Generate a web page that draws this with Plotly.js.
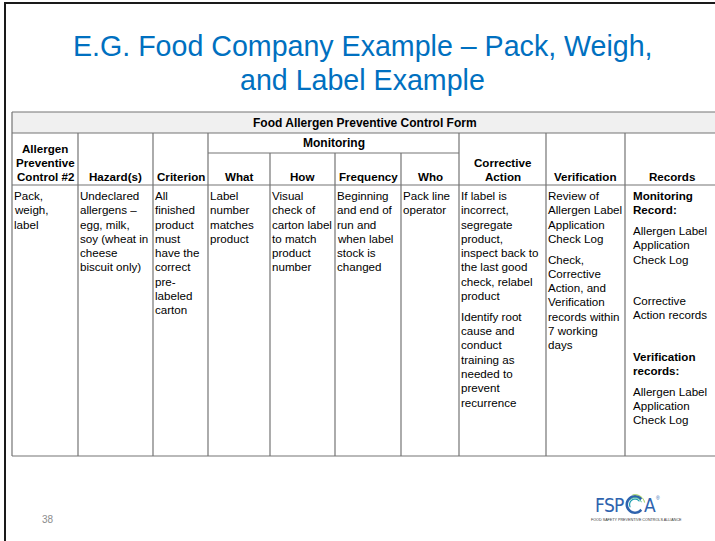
<!DOCTYPE html>
<html>
<head>
<meta charset="utf-8">
<script src="https://cdn.plot.ly/plotly-3.0.1.min.js"></script>
<style>html,body{margin:0;padding:0;background:#fff;}#chart{width:715px;height:541px;}</style>
</head>
<body>
<div id="chart"></div>
<script>
// ---------- DATA (text content of the slide) ----------
const slideTitle = ["E.G. Food Company Example \u2013 Pack, Weigh,", "and Label Example"];
const formTitle = "Food Allergen Preventive Control Form";
const groupHeader = "Monitoring";
const slideNumber = "38";
const logoLetters = ["F", "S", "P", "A"];
const logoTagline = "FOOD SAFETY PREVENTIVE CONTROLS ALLIANCE";

const columnHeaders = [
  ["Allergen", "Preventive", "Control #2"],
  ["Hazard(s)"],
  ["Criterion"],
  ["What"],
  ["How"],
  ["Frequency"],
  ["Who"],
  ["Corrective", "Action"],
  ["Verification"],
  ["Records"]
];

// each column: list of paragraphs, each paragraph: list of lines
const colControl   = [["Pack,", "weigh,", "label"]];
const colHazard    = [["Undeclared", "allergens \u2013", "egg, milk,", "soy (wheat in", "cheese", "biscuit only)"]];
const colCriterion = [["All", "finished", "product", "must", "have the", "correct", "pre-", "labeled", "carton"]];
const colWhat      = [["Label", "number", "matches", "product"]];
const colHow       = [["Visual", "check of", "carton label", "to match", "product", "number"]];
const colFrequency = [["Beginning", "and end of", "run and", "when label", "stock is", "changed"]];
const colWho       = [["Pack line", "operator"]];
const colCorrective = [
  ["If label is", "incorrect,", "segregate", "product,", "inspect back to", "the last good", "check, relabel", "product"],
  ["Identify root", "cause and", "conduct", "training as", "needed to", "prevent", "recurrence"]
];
const colVerification = [
  ["Review of", "Allergen Label", "Application", "Check Log"],
  ["Check,", "Corrective", "Action, and", "Verification", "records within", "7 working", "days"]
];
const colRecords = [
  ["<b>Monitoring</b>", "<b>Record:</b>"],
  ["Allergen Label", "Application", "Check Log"],
  [],
  ["Corrective", "Action records"],
  [],
  ["<b>Verification</b>", "<b>records:</b>"],
  ["Allergen Label", "Application", "Check Log"]
];
const bodyColumns = [colControl, colHazard, colCriterion, colWhat, colHow, colFrequency, colWho, colCorrective, colVerification, colRecords];

// ---------- LAYOUT GEOMETRY ----------
const FONT = "Liberation Sans, Arial, Helvetica, sans-serif";
const NARROW = "Liberation Sans Narrow, DejaVu Sans Condensed, Liberation Sans, sans-serif";
const colEdges = [12, 78, 153, 208, 270, 335, 401, 459, 546, 625, 718];
const yTop = 112, yTitleBot = 133, yMonBot = 153, yHeadBot = 185, yBottom = 456;
const monitorCols = [3, 6]; // first and last monitoring columns
const lineColor = "#747474";
const bodyFirstY = 195.4, lineH = 14.3, paraGap = 6.4;
const headLastY = 176.8, headLineH = 14;
const bodySize = 11.6, headSize = 11.6;
const textInset = [1.5, 1.5, 1.5, 1.5, 1.5, 1.5, 1.5, 1.5, 1.5, 8];

const shapes = [];
const annotations = [];

function line(x0, y0, x1, y1, color, width) {
  shapes.push({type: "line", xref: "x", yref: "y", x0, y0, x1, y1, line: {color, width}});
}
function txt(x, y, text, size, opts) {
  opts = opts || {};
  annotations.push({
    xref: "x", yref: "y", x, y, text, showarrow: false,
    xanchor: opts.xanchor || "left", yanchor: "middle",
    borderpad: 0, borderwidth: 0,
    font: {family: opts.family || FONT, size, color: opts.color || "#000"}
  });
}

// slide frame
line(4, 3, 715, 3, "#1a1a1a", 2);
line(5, 2, 5, 541, "#1a1a1a", 2);

// title row background
shapes.push({type: "rect", xref: "x", yref: "y", x0: colEdges[0], x1: colEdges[colEdges.length - 1], y0: yTop, y1: yTitleBot,
  fillcolor: "#f0f0f0", line: {width: 0}, layer: "below"});

const xL = colEdges[0], xR = colEdges[colEdges.length - 1];
// horizontal rules
[yTop, yTitleBot, yHeadBot, yBottom].forEach(y => line(xL, y, xR, y, lineColor, 1.2));
line(colEdges[monitorCols[0]], yMonBot, colEdges[monitorCols[1] + 1], yMonBot, lineColor, 1.2);
// vertical rules
line(xL, yTop, xL, yBottom, lineColor, 1.2);
line(xR, yTop, xR, yBottom, lineColor, 1.2);
for (let i = 1; i < colEdges.length - 1; i++) {
  const inside = i > monitorCols[0] && i <= monitorCols[1];
  line(colEdges[i], inside ? yMonBot : yTitleBot, colEdges[i], yBottom, lineColor, 1.2);
}

// slide title
txt(362.5, 45.5, slideTitle[0], 28.6, {xanchor: "center", color: "#0070C0"});
txt(362.5, 80, slideTitle[1], 28.6, {xanchor: "center", color: "#0070C0"});

// form title and group header
txt((xL + xR) / 2, 123.3, "<b>" + formTitle + "</b>", 12, {xanchor: "center"});
txt((colEdges[monitorCols[0]] + colEdges[monitorCols[1] + 1]) / 2, 143, "<b>" + groupHeader + "</b>", 12, {xanchor: "center"});

// column headers (bottom aligned, centered)
columnHeaders.forEach((lines, c) => {
  const cx = (colEdges[c] + colEdges[c + 1]) / 2;
  lines.forEach((t, k) => {
    const y = headLastY - (lines.length - 1 - k) * headLineH;
    txt(cx, y, "<b>" + t + "</b>", headSize, {xanchor: "center"});
  });
});

// body cells
bodyColumns.forEach((paras, c) => {
  let y = bodyFirstY;
  const x = colEdges[c] + textInset[c];
  paras.forEach((lines, p) => {
    if (p > 0) y += paraGap;
    if (lines.length === 0) { y += lineH; return; }
    lines.forEach(t => { txt(x, y, t, bodySize); y += lineH; });
  });
});

// slide number
txt(42, 519, slideNumber, 10, {color: "#8c8c8c"});

// FSPCA logo
const logoBlue = "#2e63ae";
const logoY = 504.5;
txt(595, logoY, logoLetters[0], 19, {color: logoBlue, family: NARROW});
txt(604, logoY, logoLetters[1], 19, {color: logoBlue, family: NARROW});
txt(613.5, logoY, logoLetters[2], 19, {color: logoBlue, family: NARROW});
txt(644, logoY, logoLetters[3], 19, {color: logoBlue, family: NARROW});
txt(656, 497.5, "\u00ae", 5, {color: logoBlue});
function arcPath(cx, cy, r, a0, a1) {
  let d = "";
  const n = 28;
  for (let i = 0; i <= n; i++) {
    const a = (a0 + (a1 - a0) * i / n) * Math.PI / 180;
    const px = cx + r * Math.cos(a), py = cy - r * Math.sin(a);
    d += (i === 0 ? "M" : "L") + px.toFixed(2) + "," + py.toFixed(2);
  }
  return d;
}
const arcDefs = [
  {r: 8.2, a0: 40, a1: 320, c: logoBlue, w: 2.6},
  {r: 5.4, a0: 35, a1: 210, c: "#1f9fb0", w: 1.2},
  {r: 6.8, a0: 20, a1: 140, c: "#3fb58a", w: 1.0},
  {r: 9.8, a0: 12, a1: 105, c: "#8cc63f", w: 1.0}
];
arcDefs.forEach(a => shapes.push({type: "path", xref: "x", yref: "y", path: arcPath(635, logoY, a.r, a.a0, a.a1),
  line: {color: a.c, width: a.w}}));
txt(636, 519.5, logoTagline, 3.7, {xanchor: "center", color: "#333"});

const layout = {
  width: 715, height: 541,
  margin: {l: 0, r: 0, t: 0, b: 0, pad: 0},
  paper_bgcolor: "#ffffff", plot_bgcolor: "#ffffff",
  showlegend: false,
  xaxis: {range: [0, 715], autorange: false, visible: false, fixedrange: true},
  yaxis: {range: [541, 0], autorange: false, visible: false, fixedrange: true},
  shapes, annotations
};
Plotly.newPlot("chart", [{type: "scatter", x: [], y: [], hoverinfo: "skip"}], layout, {staticPlot: true, displayModeBar: false});
</script>
</body>
</html>
